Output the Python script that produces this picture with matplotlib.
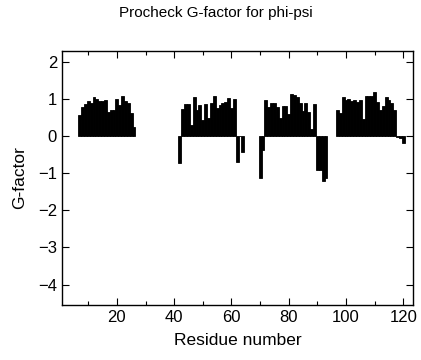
import numpy as np
import matplotlib
matplotlib.use('Agg')
import matplotlib.pyplot as plt
from matplotlib.ticker import MultipleLocator

# G-factor per residue
res_a = list(range(7, 27))
g_a = [0.58, 0.80, 0.88, 0.95, 0.90, 1.05, 1.02, 0.95, 0.95, 0.97,
       0.65, 0.70, 0.72, 1.00, 0.85, 1.10, 0.95, 0.90, 0.62, 0.25]

res_b = list(range(42, 65))
g_b = [-0.73, 0.74, 0.87, 0.87, 0.31, 1.07, 0.70, 0.85, 0.45, 0.86,
       0.50, 0.89, 1.10, 0.77, 0.85, 0.89, 0.94, 1.04, 0.77, 1.00,
       -0.69, 0.0, -0.42]

res_c = list(range(70, 94))
g_c = [-1.13, -0.38, 0.99, 0.79, 0.91, 0.90, 0.79, 0.49, 0.83, 0.81,
       0.61, 1.14, 1.12, 1.07, 0.89, 0.68, 0.91, 0.67, 0.20, 0.875,
       -0.90, -0.92, -1.20, -1.13]

res_d = list(range(97, 121))
g_d = [0.70, 0.62, 1.05, 0.97, 1.00, 0.95, 0.97, 0.93, 0.97, 0.47,
       1.08, 1.10, 1.08, 1.20, 0.92, 0.72, 0.82, 1.05, 0.97, 0.90,
       0.72, -0.03, -0.05, -0.18]

residues = res_a + res_b + res_c + res_d
gfactor = g_a + g_b + g_c + g_d

plt.rcParams['font.family'] = ['Liberation Sans', 'DejaVu Sans']

fig = plt.figure(figsize=(4.21, 3.60), dpi=100)
ax = fig.add_axes([0.147, 0.153, 0.834, 0.705])

ax.bar(residues, gfactor, width=1.0, color='black',
       edgecolor='black', linewidth=0.6)

ax.set_xlim(0.8, 123.4)
ax.set_ylim(-4.55, 2.3)
ax.xaxis.set_minor_locator(MultipleLocator(10))
ax.yaxis.set_major_locator(MultipleLocator(1))
ax.set_xticks([20, 40, 60, 80, 100, 120])
ax.tick_params(which='both', direction='in', top=True, right=True,
               labelsize=12, width=0.8)
ax.tick_params(which='major', length=5)
ax.tick_params(which='minor', length=3)
for s in ax.spines.values():
    s.set_linewidth(1.0)

ax.set_xlabel('Residue number', fontsize=12.5, labelpad=6)
ax.set_ylabel('G-factor', fontsize=12.5, labelpad=8)
fig.text(0.513, 1 - 13 / 360, 'Procheck G-factor for phi-psi',
         ha='center', va='center', fontsize=11)

fig.savefig('out.png', dpi=100)
